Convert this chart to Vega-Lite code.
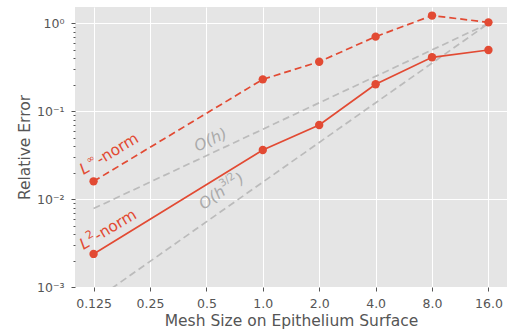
{
  "$schema": "https://vega.github.io/schema/vega-lite/v6.json",
  "width": 432,
  "height": 280,
  "autosize": {"type": "none"},
  "padding": {"left": 75, "top": 7, "right": 2, "bottom": 47},
  "config": {
    "view": {"fill": "#E5E5E5", "stroke": null},
    "font": "DejaVu Sans",
    "axis": {
      "labelFont": "DejaVu Sans",
      "titleFont": "DejaVu Sans",
      "labelColor": "#555555",
      "titleColor": "#555555",
      "tickColor": "#555555",
      "domain": false,
      "gridColor": "#FFFFFF",
      "gridWidth": 1,
      "gridOpacity": 1,
      "labelFontSize": 12.5,
      "titleFontSize": 15.5,
      "titleFontWeight": "normal"
    }
  },
  "encoding": {
    "x": {
      "field": "x",
      "type": "quantitative",
      "scale": {"type": "log", "base": 2, "domain": [0.0995, 20.1], "nice": false, "zero": false},
      "axis": {
        "values": [0.125, 0.25, 0.5, 1, 2, 4, 8, 16],
        "labelExpr": "datum.value < 1 ? toString(datum.value) : format(datum.value, '.1f')",
        "title": "Mesh Size on Epithelium Surface",
        "tickSize": 4,
        "labelPadding": 6,
        "titlePadding": 4,
        "grid": true
      }
    },
    "y": {
      "field": "y",
      "type": "quantitative",
      "scale": {"type": "log", "domain": [0.001, 1.54], "nice": false, "zero": false},
      "axis": {
        "values": [0.001, 0.002, 0.003, 0.004, 0.005, 0.006, 0.007, 0.008, 0.009, 0.01, 0.02, 0.03, 0.04, 0.05, 0.06, 0.07, 0.08, 0.09, 0.1, 0.2, 0.3, 0.4, 0.5, 0.6, 0.7, 0.8, 0.9, 1],
        "labelExpr": "abs(log(datum.value)/LN10 - round(log(datum.value)/LN10)) < 0.001 ? ['10⁻³','10⁻²','10⁻¹','10⁰'][round(log(datum.value)/LN10)+3] : ''",
        "tickSize": {"condition": {"test": "abs(log(datum.value)/LN10 - round(log(datum.value)/LN10)) < 0.001", "value": 4}, "value": 2},
        "gridOpacity": {"condition": {"test": "abs(log(datum.value)/LN10 - round(log(datum.value)/LN10)) < 0.001", "value": 1}, "value": 0},
        "title": "Relative Error",
        "labelPadding": 7,
        "titlePadding": 4,
        "grid": true
      }
    }
  },
  "layer": [
    {
      "data": {"values": [
        {"x": 0.125, "y": 0.0078125, "s": "O(h)"},
        {"x": 16, "y": 1, "s": "O(h)"},
        {"x": 0.125, "y": 0.00069053, "s": "O(h3/2)"},
        {"x": 16, "y": 1, "s": "O(h3/2)"}
      ]},
      "mark": {"type": "line", "color": "#BBBBBB", "strokeDash": [7, 4], "strokeWidth": 1.7, "clip": true},
      "encoding": {"detail": {"field": "s"}}
    },
    {
      "data": {"values": [
        {"x": 0.125, "y": 0.00238},
        {"x": 1, "y": 0.0363},
        {"x": 2, "y": 0.0699},
        {"x": 4, "y": 0.203},
        {"x": 8, "y": 0.412},
        {"x": 16, "y": 0.499}
      ]},
      "mark": {"type": "line", "color": "#E24A33", "strokeWidth": 1.7, "point": {"filled": true, "size": 70, "color": "#E24A33", "opacity": 1}}
    },
    {
      "data": {"values": [
        {"x": 0.125, "y": 0.01596},
        {"x": 1, "y": 0.231},
        {"x": 2, "y": 0.367},
        {"x": 4, "y": 0.708},
        {"x": 8, "y": 1.23},
        {"x": 16, "y": 1.03}
      ]},
      "mark": {"type": "line", "color": "#E24A33", "strokeWidth": 1.7, "strokeDash": [7, 4], "point": {"filled": true, "size": 70, "color": "#E24A33", "opacity": 1}}
    },
    {
      "data": {"values": [
        {"x": 0.1105, "y": 0.0188, "t": "L"},
        {"x": 0.1105, "y": 0.00264, "t": "L"}
      ]},
      "mark": {"type": "text", "align": "left", "baseline": "alphabetic", "angle": -31, "fontSize": 15.5, "fontStyle": "italic", "color": "#E24A33", "font": "DejaVu Sans"},
      "encoding": {"text": {"field": "t"}}
    },
    {
      "data": {"values": [
        {"x": 0.1105, "y": 0.0188, "t": "∞"}
      ]},
      "mark": {"type": "text", "align": "left", "baseline": "alphabetic", "angle": -31, "fontSize": 10, "dx": 10, "dy": -7, "color": "#E24A33", "font": "DejaVu Sans"},
      "encoding": {"text": {"field": "t"}}
    },
    {
      "data": {"values": [
        {"x": 0.1105, "y": 0.00264, "t": "2"}
      ]},
      "mark": {"type": "text", "align": "left", "baseline": "alphabetic", "angle": -31, "fontSize": 11, "dx": 9.5, "dy": -6.5, "color": "#E24A33", "font": "DejaVu Sans"},
      "encoding": {"text": {"field": "t"}}
    },
    {
      "data": {"values": [
        {"x": 0.1105, "y": 0.0188, "t": "-norm"}
      ]},
      "mark": {"type": "text", "align": "left", "baseline": "alphabetic", "angle": -31, "fontSize": 15.5, "dx": 19.5, "color": "#E24A33", "font": "DejaVu Sans"},
      "encoding": {"text": {"field": "t"}}
    },
    {
      "data": {"values": [
        {"x": 0.1105, "y": 0.00264, "t": "-norm"}
      ]},
      "mark": {"type": "text", "align": "left", "baseline": "alphabetic", "angle": -31, "fontSize": 15.5, "dx": 17, "color": "#E24A33", "font": "DejaVu Sans"},
      "encoding": {"text": {"field": "t"}}
    },
    {
      "data": {"values": [
        {"x": 0.447, "y": 0.0347, "t": "O(h)"}
      ]},
      "mark": {"type": "text", "align": "left", "baseline": "alphabetic", "angle": -25, "fontSize": 15.5, "fontStyle": "italic", "color": "#AAAAAA", "font": "DejaVu Sans"},
      "encoding": {"text": {"field": "t"}}
    },
    {
      "data": {"values": [
        {"x": 0.483, "y": 0.00753, "t": "O(h"}
      ]},
      "mark": {"type": "text", "align": "left", "baseline": "alphabetic", "angle": -35, "fontSize": 15.5, "fontStyle": "italic", "color": "#AAAAAA", "font": "DejaVu Sans"},
      "encoding": {"text": {"field": "t"}}
    },
    {
      "data": {"values": [
        {"x": 0.483, "y": 0.00753, "t": "3/2"}
      ]},
      "mark": {"type": "text", "align": "left", "baseline": "alphabetic", "angle": -35, "fontSize": 10.5, "dx": 28, "dy": -8, "color": "#AAAAAA", "font": "DejaVu Sans"},
      "encoding": {"text": {"field": "t"}}
    },
    {
      "data": {"values": [
        {"x": 0.483, "y": 0.00753, "t": ")"}
      ]},
      "mark": {"type": "text", "align": "left", "baseline": "alphabetic", "angle": -35, "fontSize": 15.5, "fontStyle": "italic", "dx": 45, "color": "#AAAAAA", "font": "DejaVu Sans"},
      "encoding": {"text": {"field": "t"}}
    }
  ]
}
